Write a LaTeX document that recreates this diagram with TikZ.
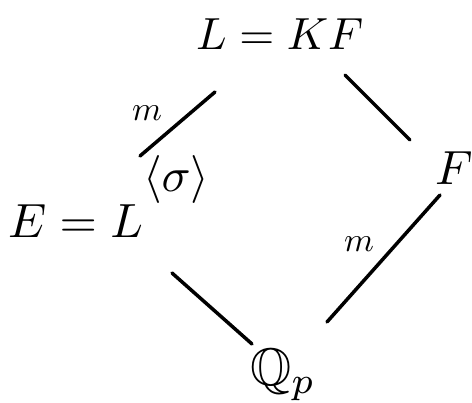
\documentclass[tikz,border=0pt]{standalone}
\usepackage{graphicx}
\usepackage{amssymb}
\tikzset{
  lbl/.style={inner sep=0pt},
  edge/.style={line width=3.5pt, line cap=round}
}
\newcommand{\bigmath}[2][4.8]{\scalebox{#1}{$#2$}}
\newcommand{\mmath}[1]{\scalebox{3.4}{$#1$}}
\begin{document}
\begin{tikzpicture}[x=1pt,y=-1pt]
\useasboundingbox (0,0) rectangle (472,403);
\node[lbl, anchor=base west] (lkf) at (196,50) {\bigmath[4.5]{L = KF}};
\node[lbl, anchor=base west] (f) at (435,185) {\bigmath{F}};
\node[lbl, anchor=base west] (e) at (8,238) {\bigmath{E = L^{\raisebox{6pt}{$\langle\sigma\rangle$}}}};
\node[lbl, anchor=base west] (qp) at (250,386) {\bigmath[5.3]{\mathbb{Q}_p}};
\node[lbl] (m1) at (147,113) {\mmath{m}};
\node[lbl] (m2) at (359,244) {\mmath{m}};
\coordinate (lkfc) at (277,35);
\coordinate (fc) at (453,167);
\coordinate (qc) at (280,370);
\draw[edge] ([shift={(132,-82)}]e.base west) -- ([shift={(-62,57)}]lkfc);
\draw[edge] ([shift={(68,40)}]lkfc) -- ([shift={(-43,-27)}]fc);
\draw[edge] ([shift={(164,35)}]e.base west) -- ([shift={(-28,-26)}]qc);
\draw[edge] ([shift={(47,-48)}]qc) -- ([shift={(-13,28)}]fc);
\end{tikzpicture}
\end{document}
